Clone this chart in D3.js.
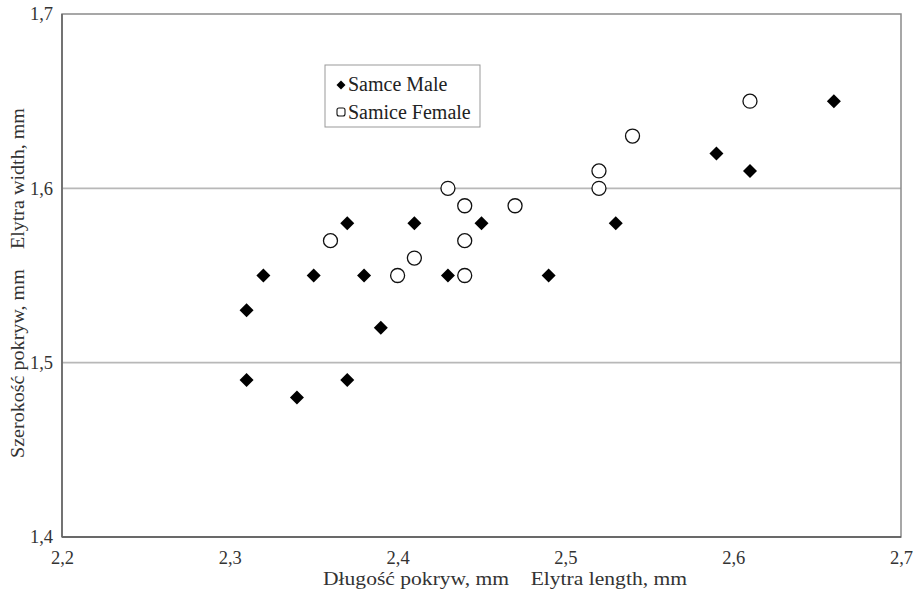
<!DOCTYPE html>
<html><head><meta charset="utf-8">
<script src="https://cdn.jsdelivr.net/npm/d3@7"></script>
<style>body{margin:0;background:#fff}svg{display:block}svg text{font-family:'Liberation Serif',serif !important}</style>
</head><body><svg id="c" width="913" height="591"></svg>
<script>
const maleX = [2.31,2.31,2.32,2.34,2.35,2.37,2.37,2.38,2.39,2.41,2.43,2.45,2.49,2.53,2.59,2.61,2.66];
const maleY = [1.53,1.49,1.55,1.48,1.55,1.58,1.49,1.55,1.52,1.58,1.55,1.58,1.55,1.58,1.62,1.61,1.65];
const femaleX = [2.36,2.40,2.41,2.43,2.44,2.44,2.44,2.47,2.52,2.52,2.54,2.61];
const femaleY = [1.57,1.55,1.56,1.60,1.59,1.57,1.55,1.59,1.61,1.60,1.63,1.65];
const xTicks = [2.2,2.3,2.4,2.5,2.6,2.7];
const yTicks = [1.4,1.5,1.6,1.7];
const legendLabels = ["Samce Male","Samice Female"];
const xTitle = "Długość pokryw, mm    Elytra length, mm";
const yTitle = "Szerokość pokryw, mm    Elytra width, mm";

const FONT = "Liberation Serif, serif";
const svg = d3.select("#c");
const L=62,R=901,T=14,B=537;
const x = d3.scaleLinear().domain([2.2,2.7]).range([L,R]);
const y = d3.scaleLinear().domain([1.4,1.7]).range([B,T]);
const fmt = d => d3.format(".1f")(d).replace(".",",");

// gridlines
svg.append("g").selectAll("line").data(yTicks.filter(d=>d>1.4&&d<1.7)).join("line")
  .attr("x1",L).attr("x2",R).attr("y1",d=>y(d)).attr("y2",d=>y(d))
  .attr("stroke","#b8b8b8").attr("stroke-width",1.6);

// frame
svg.append("rect").attr("x",L).attr("y",T).attr("width",R-L).attr("height",B-T)
  .attr("fill","none").attr("stroke","#8a8a8a").attr("stroke-width",1.5);
svg.append("line").attr("x1",L).attr("x2",R).attr("y1",B).attr("y2",B).attr("stroke","#555").attr("stroke-width",1.6);
svg.append("line").attr("x1",L).attr("x2",L).attr("y1",T).attr("y2",B).attr("stroke","#666").attr("stroke-width",1.6);

// axes
const xa = svg.append("g").attr("transform",`translate(0,${B})`).attr("font-family",FONT)
  .call(d3.axisBottom(x).tickValues(xTicks).tickFormat(fmt).tickSize(0).tickPadding(14));
xa.attr("font-family",FONT);
xa.select(".domain").remove();
xa.selectAll("text").style("font-size","18.5px").attr("fill","#333");
const ya = svg.append("g").attr("transform",`translate(${L},0)`)
  .call(d3.axisLeft(y).tickValues(yTicks).tickFormat(fmt).tickSize(0).tickPadding(9));
ya.attr("font-family",FONT);
ya.select(".domain").remove();
ya.selectAll("text").style("font-size","18.5px").attr("fill","#333");

// titles
svg.append("text").attr("x",505).attr("y",585).attr("text-anchor","middle").style("font-size","19px").style("white-space","pre")
  .attr("textLength",364).attr("lengthAdjust","spacingAndGlyphs").attr("fill","#333").text(xTitle);
svg.append("text").attr("transform","translate(24,283) rotate(-90)").attr("text-anchor","middle").style("font-size","18px").style("white-space","pre")
  .attr("textLength",350).attr("lengthAdjust","spacingAndGlyphs").attr("fill","#333").text(yTitle);

// points
const diamond = d3.symbol().type(d3.symbolSquare).size(98)();
svg.append("g").selectAll("path").data(maleX.map((v,i)=>[v,maleY[i]])).join("path")
  .attr("d",diamond).attr("transform",d=>`translate(${x(d[0])},${y(d[1])}) rotate(45)`).attr("fill","#000");
svg.append("g").selectAll("circle").data(femaleX.map((v,i)=>[v,femaleY[i]])).join("circle")
  .attr("cx",d=>x(d[0])).attr("cy",d=>y(d[1])).attr("r",7).attr("fill","#fff").attr("stroke","#111").attr("stroke-width",1.3);

// legend
const lg = svg.append("g");
lg.append("rect").attr("x",325).attr("y",65).attr("width",155).attr("height",62).attr("fill","#fff").attr("stroke","#999").attr("stroke-width",1);
lg.append("path").attr("d",d3.symbol().type(d3.symbolSquare).size(40)()).attr("transform","translate(341,85) rotate(45)").attr("fill","#000");
lg.append("rect").attr("x",337).attr("y",108).attr("width",8).attr("height",8).attr("rx",2).attr("fill","#fff").attr("stroke","#111").attr("stroke-width",1.1);
lg.selectAll("text.l").data(legendLabels).join("text").attr("class","l")
  .attr("x",348).attr("y",(d,i)=>91+i*28).style("font-size","20px").attr("fill","#222").text(d=>d);
</script></body></html>
